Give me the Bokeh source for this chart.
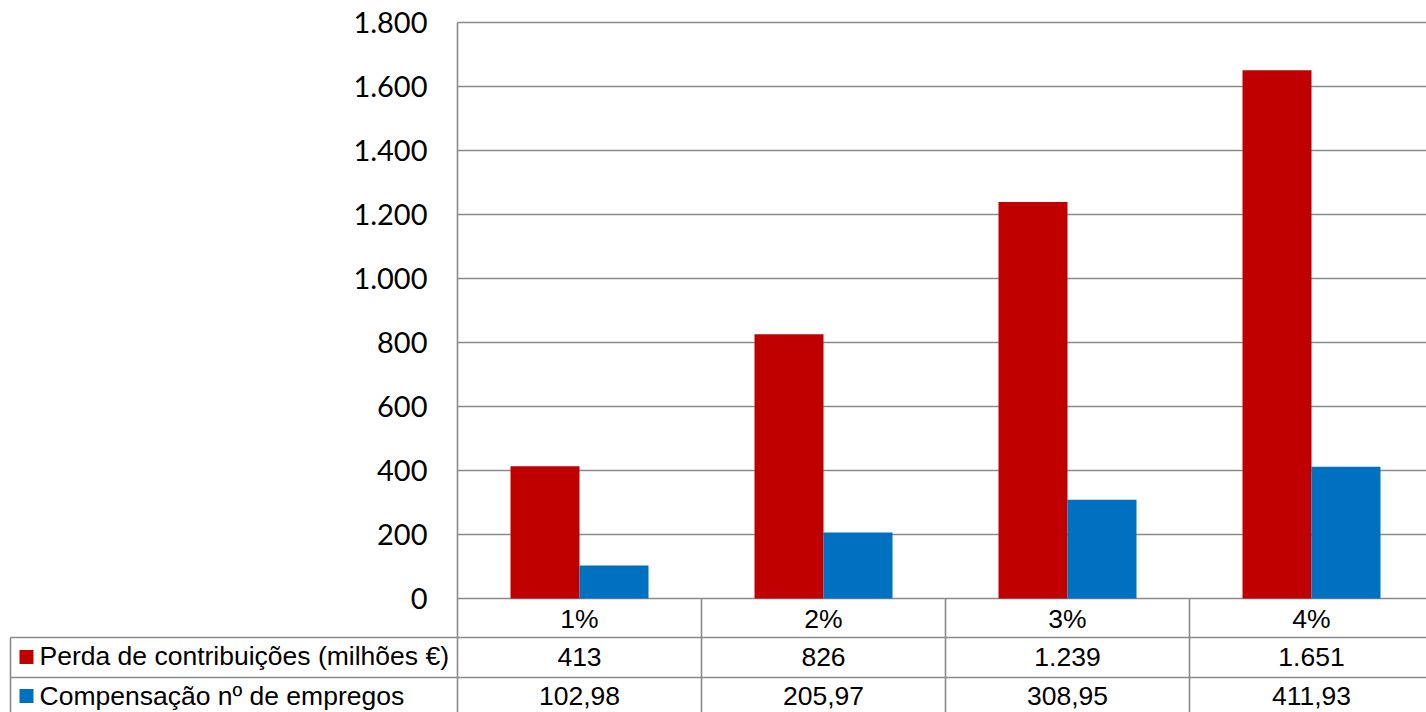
from bokeh.plotting import figure
from bokeh.models import Range1d
from bokeh.core.properties import value
from bokeh.embed import file_html
from bokeh.resources import INLINE

# ---------------- data ----------------
categories = ["1%", "2%", "3%", "4%"]
perda = [413, 826, 1239, 1651]
compensacao = [102.98, 205.97, 308.95, 411.93]
series_names = ["Perda de contribuições (milhões €)", "Compensação nº de empregos"]
series_colors = ["#C00000", "#0070C0"]
y_ticks = [0, 200, 400, 600, 800, 1000, 1200, 1400, 1600, 1800]


def fmt_int(v):
    return f"{v:,.0f}".replace(",", ".")


def fmt_dec(v):
    return f"{v:,.2f}".replace(",", "X").replace(".", ",").replace("X", ".")


y_tick_labels = [fmt_int(t) for t in y_ticks]
perda_labels = [fmt_int(v) for v in perda]
comp_labels = [fmt_dec(v) for v in compensacao]

# ---------------- layout helpers ----------------
W, H = 1426, 712
AXIS_X = 457        # pixel of the vertical axis
ZERO_Y = 598        # pixel of value 0
TOP_Y = 22          # pixel of value 1800
CAT_PX = 244        # pixel width of one category
UNITS_PER_PX = (y_ticks[-1] - y_ticks[0]) / (ZERO_Y - TOP_Y)


def dx(px):
    return (px - AXIS_X) / CAT_PX


def dy(py):
    return (ZERO_Y - py) * UNITS_PER_PX


p = figure(
    width=W, height=H,
    x_range=Range1d(dx(0), dx(W)),
    y_range=Range1d(dy(H), dy(0)),
    output_backend="svg", toolbar_location=None,
    x_axis_type=None, y_axis_type=None, min_border=0,
)
p.outline_line_color = None
p.background_fill_color = "white"
p.border_fill_color = "white"

LINE_C = "#8a8a8a"
LINE_W = 1.6
x_end = dx(W + 20)
bottom = dy(H + 10)

# gridlines (including zero line)
p.segment(x0=[0] * len(y_ticks), x1=[x_end] * len(y_ticks), y0=y_ticks, y1=y_ticks,
          line_color=LINE_C, line_width=LINE_W)

# bars
n = len(categories)
bw = 69 / CAT_PX
red_x = [i + 0.5 - bw / 2 for i in range(n)]
blue_x = [i + 0.5 + bw / 2 for i in range(n)]
p.vbar(x=red_x, width=bw, top=perda, bottom=0, fill_color=series_colors[0], line_color=None)
p.vbar(x=blue_x, width=bw, top=compensacao, bottom=0, fill_color=series_colors[1], line_color=None)

# axis line (continues through table)
p.segment(x0=[0], x1=[0], y0=[y_ticks[-1]], y1=[bottom], line_color=LINE_C, line_width=LINE_W)

# table lines
p.segment(x0=[1, 2, 3, 4], x1=[1, 2, 3, 4], y0=[0] * 4, y1=[bottom] * 4,
          line_color=LINE_C, line_width=LINE_W)
p.segment(x0=[dx(10)], x1=[dx(10)], y0=[dy(637)], y1=[bottom], line_color=LINE_C, line_width=LINE_W)
p.segment(x0=[dx(10)] * 2, x1=[x_end] * 2, y0=[dy(637), dy(677)], y1=[dy(637), dy(677)],
          line_color=LINE_C, line_width=LINE_W)

# y tick labels
p.text(x=[dx(427)] * len(y_ticks), y=y_ticks, text=y_tick_labels,
       text_font=value("Lato"), text_font_size="29px", text_color="black",
       text_align="right", text_baseline="middle")

# table texts
cx = [i + 0.5 for i in range(n)]
TF = value("Liberation Sans")
FS = "26.5px"
p.text(x=cx, y=[dy(618.5)] * n, text=categories, text_font=TF, text_font_size=FS,
       text_align="center", text_baseline="middle", text_color="black")
p.text(x=cx, y=[dy(656)] * n, text=perda_labels, text_font=TF, text_font_size=FS,
       text_align="center", text_baseline="middle", text_color="black")
p.text(x=cx, y=[dy(695.5)] * n, text=comp_labels, text_font=TF, text_font_size=FS,
       text_align="center", text_baseline="middle", text_color="black")

# legend keys + series names
p.scatter(x=[dx(26)] * 2, y=[dy(656.5), dy(695.5)], size=14, marker="square",
          fill_color=series_colors, line_color=None)
p.text(x=[dx(39)] * 2, y=[dy(655.5), dy(695)], text=series_names, text_font=TF,
       text_font_size=FS, text_align="left", text_baseline="middle", text_color="black")

open("out.html", "w").write(file_html(p, INLINE))
